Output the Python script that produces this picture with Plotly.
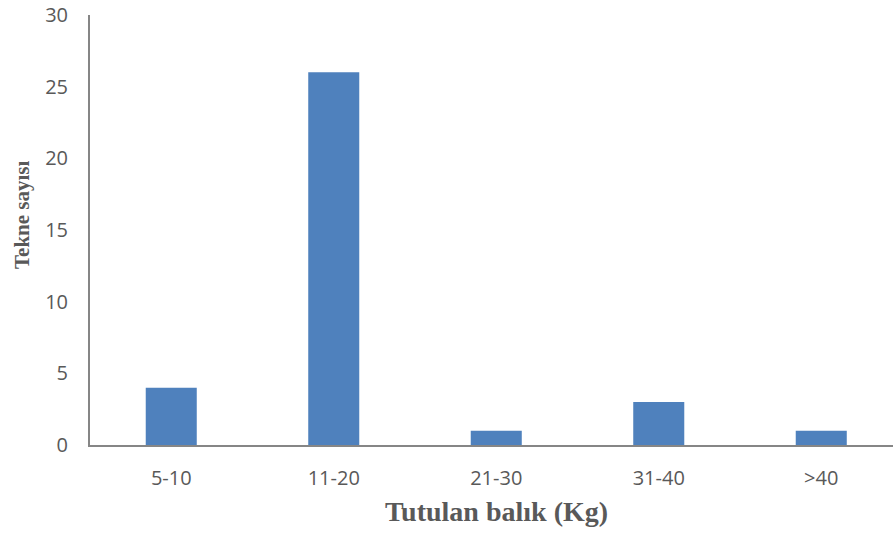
import plotly.graph_objects as go

categories = ["5-10", "11-20", "21-30", "31-40", ">40"]
values = [4, 26, 1, 3, 1]
y_ticks = [0, 5, 10, 15, 20, 25, 30]

L, R, T, B = 90, 0, 15, 88
W, H = 893, 533
pw = W - L - R
ph = H - T - B

fig = go.Figure()
fig.add_trace(go.Bar(x=categories, y=values, marker=dict(color="#4F81BD", line=dict(width=0)), width=0.314))

axis_color = "#868686"
tick_font = dict(family="Open Sans", size=20, color="#595959")

fig.update_layout(
    width=W, height=H,
    margin=dict(l=L, r=R, t=T, b=B, autoexpand=False),
    paper_bgcolor="white", plot_bgcolor="white",
    showlegend=False,
    xaxis=dict(
        range=[-0.5, 4.4415], showline=True, linecolor=axis_color, linewidth=2,
        showgrid=False, zeroline=False, ticks="", tickfont=tick_font,
        ticklabelstandoff=14, automargin=False,
    ),
    yaxis=dict(
        range=[0, 30], tickvals=y_ticks, showline=True, linecolor=axis_color, linewidth=2,
        showgrid=False, zeroline=False, ticks="", tickfont=tick_font,
        ticklabelstandoff=16, automargin=False,
    ),
    annotations=[
        dict(text="<b>Tutulan balık (Kg)</b>", xref="paper", yref="paper",
             x=(496 - L) / pw, y=(445 - 512) / ph, xanchor="center", yanchor="middle",
             showarrow=False, font=dict(family="Liberation Serif", size=28, color="#595959")),
        dict(text="<b>Tekne sayısı</b>", textangle=-90, xref="paper", yref="paper",
             x=(22 - L) / pw, y=(445 - 215) / ph, xanchor="center", yanchor="middle",
             showarrow=False, font=dict(family="Liberation Serif", size=21, color="#595959")),
    ],
)

fig.write_html("out.html", config={"displayModeBar": False},
               post_script="document.body.style.margin='0';document.body.style.padding='0';")
